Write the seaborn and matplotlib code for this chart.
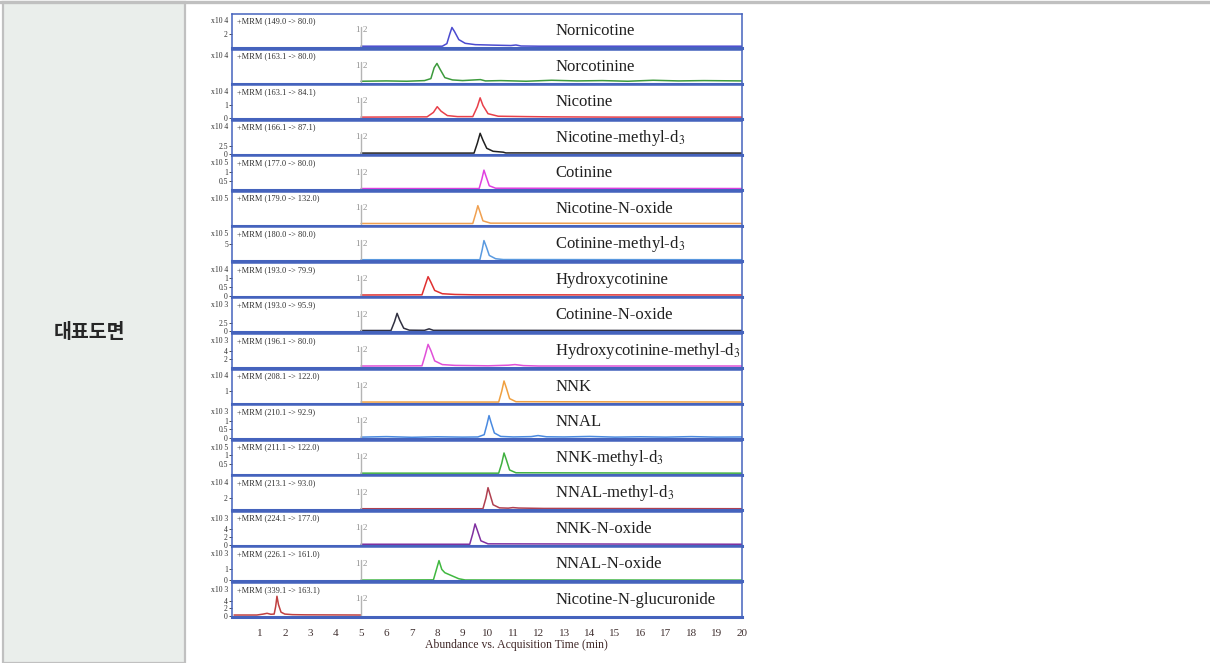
import matplotlib
matplotlib.use("Agg")
import matplotlib.pyplot as plt
from matplotlib.patches import Rectangle
from matplotlib.lines import Line2D
import seaborn as sns

# compound names, transitions and y-axis multipliers, top to bottom
names = ["Nornicotine", "Norcotinine", "Nicotine", "Nicotine-methyl-d$_3$", "Cotinine",
         "Nicotine-N-oxide", "Cotinine-methyl-d$_3$", "Hydroxycotinine", "Cotinine-N-oxide",
         "Hydroxycotinine-methyl-d$_3$", "NNK", "NNAL", "NNK-methyl-d$_3$", "NNAL-methyl-d$_3$",
         "NNK-N-oxide", "NNAL-N-oxide", "Nicotine-N-glucuronide"]
mrm = ["+MRM (149.0 -> 80.0)", "+MRM (163.1 -> 80.0)", "+MRM (163.1 -> 84.1)",
       "+MRM (166.1 -> 87.1)", "+MRM (177.0 -> 80.0)", "+MRM (179.0 -> 132.0)",
       "+MRM (180.0 -> 80.0)", "+MRM (193.0 -> 79.9)", "+MRM (193.0 -> 95.9)",
       "+MRM (196.1 -> 80.0)", "+MRM (208.1 -> 122.0)", "+MRM (210.1 -> 92.9)",
       "+MRM (211.1 -> 122.0)", "+MRM (213.1 -> 93.0)", "+MRM (224.1 -> 177.0)",
       "+MRM (226.1 -> 161.0)", "+MRM (339.1 -> 163.1)"]
exponents = [4, 4, 4, 4, 5, 5, 5, 4, 3, 3, 4, 3, 5, 4, 3, 3, 3]
yticks = [[2], [], [0, 1], [0, 2.5], [0.5, 1], [], [5], [0, 0.5, 1], [0, 2.5], [2, 4],
          [1], [0, 0.5, 1], [0.5, 1], [2], [0, 2, 4], [0, 1], [0, 2, 4]]
ytops = [4.9, 1.0, 2.6, 11, 1.9, 1.0, 10, 1.8, 10, 8, 2.9, 1.9, 1.75, 5.8, 8.2, 3.0, 8.7]
colors = ["#4b4bcf", "#3c9a3c", "#e8404a", "#202020", "#e040e0", "#f0a050", "#5a9ae0",
          "#e03030", "#303040", "#e050d8", "#f0a040", "#4a8ae0", "#40b040", "#b04050",
          "#8030a0", "#40b840", "#c04040"]

# traces (time in min, abundance in units of the multiplier)
t_nornicotine = [5.0, 8.2, 8.38, 8.5, 8.58, 8.68, 8.85, 9.1, 9.5, 10.2, 10.9, 11.1, 11.3, 12.0, 20.0]
y_nornicotine = [0.12, 0.12, 0.5, 2.0, 2.9, 2.3, 1.1, 0.55, 0.35, 0.28, 0.22, 0.3, 0.15, 0.12, 0.12]
t_norcotinine = [5.0, 6.0, 6.8, 7.5, 7.75, 7.88, 7.99, 8.1, 8.3, 8.6, 9.0, 9.7, 9.9, 10.5, 11.5,
                 12.5, 13.5, 14.5, 15.5, 16.5, 17.5, 18.5, 20.0]
y_norcotinine = [0.04, 0.05, 0.04, 0.06, 0.12, 0.45, 0.58, 0.42, 0.15, 0.08, 0.06, 0.09, 0.05,
                 0.06, 0.04, 0.07, 0.05, 0.06, 0.04, 0.07, 0.05, 0.06, 0.05]
t_nicotine = [5.0, 7.6, 7.85, 8.0, 8.15, 8.4, 8.8, 9.4, 9.58, 9.69, 9.8, 10.0, 10.4, 11.5, 12.5, 15.0, 20.0]
y_nicotine = [0.08, 0.1, 0.45, 0.9, 0.55, 0.2, 0.12, 0.12, 0.9, 1.6, 1.0, 0.35, 0.15, 0.12, 0.1, 0.08, 0.08]
t_nic_d3 = [5.0, 9.45, 9.58, 9.69, 9.8, 9.95, 10.2, 10.6, 10.7, 20.0]
y_nic_d3 = [0.2, 0.2, 3.5, 6.8, 4.5, 1.8, 0.8, 0.5, 0.25, 0.2]
t_cotinine = [5.0, 9.65, 9.76, 9.84, 9.92, 10.05, 10.3, 20.0]
y_cotinine = [0.04, 0.04, 0.6, 1.1, 0.75, 0.2, 0.06, 0.04]
t_nic_noxide = [5.0, 9.4, 9.52, 9.6, 9.68, 9.8, 10.1, 20.0]
y_nic_noxide = [0.04, 0.04, 0.35, 0.58, 0.4, 0.12, 0.05, 0.04]
t_cot_d3 = [5.0, 9.68, 9.77, 9.84, 9.93, 10.05, 10.3, 10.6, 20.0]
y_cot_d3 = [0.2, 0.2, 3.2, 6.0, 4.2, 1.5, 0.5, 0.25, 0.2]
t_hydroxycot = [5.0, 7.4, 7.53, 7.64, 7.75, 7.9, 8.2, 8.7, 9.5, 20.0]
y_hydroxycot = [0.05, 0.06, 0.6, 1.05, 0.75, 0.3, 0.12, 0.08, 0.06, 0.05]
t_cot_noxide = [5.0, 6.18, 6.32, 6.42, 6.52, 6.68, 6.9, 7.5, 7.68, 7.85, 20.0]
y_cot_noxide = [0.3, 0.3, 3.0, 5.5, 3.5, 1.0, 0.4, 0.35, 0.8, 0.35, 0.3]
t_hydroxycot_d3 = [5.0, 7.4, 7.53, 7.64, 7.75, 7.9, 8.2, 8.7, 10.0, 10.8, 11.06, 11.4, 12.0, 20.0]
y_hydroxycot_d3 = [0.25, 0.3, 3.0, 5.5, 4.0, 1.5, 0.6, 0.4, 0.3, 0.45, 0.6, 0.35, 0.25, 0.25]
t_nnk = [5.0, 10.42, 10.54, 10.63, 10.72, 10.85, 11.1, 20.0]
y_nnk = [0.05, 0.05, 1.0, 1.9, 1.3, 0.35, 0.08, 0.05]
t_nnal = [5.0, 6.0, 7.0, 8.0, 9.0, 9.6, 9.85, 9.96, 10.04, 10.12, 10.25, 10.5, 11.0, 11.7, 11.97,
          12.3, 13.0, 14.0, 15.0, 16.0, 17.0, 18.0, 19.0, 20.0]
y_nnal = [0.06, 0.09, 0.05, 0.08, 0.06, 0.07, 0.2, 0.8, 1.3, 0.9, 0.3, 0.1, 0.07, 0.09, 0.15,
          0.08, 0.07, 0.1, 0.06, 0.08, 0.06, 0.09, 0.06, 0.07]
t_nnk_d3 = [5.0, 10.42, 10.54, 10.63, 10.72, 10.85, 11.1, 20.0]
y_nnk_d3 = [0.03, 0.03, 0.55, 1.1, 0.75, 0.2, 0.05, 0.03]
t_nnal_d3 = [5.0, 9.8, 9.92, 10.0, 10.08, 10.2, 10.45, 10.8, 10.98, 11.2, 12.2, 20.0]
y_nnal_d3 = [0.1, 0.1, 2.0, 3.8, 2.6, 0.8, 0.25, 0.2, 0.3, 0.22, 0.15, 0.1]
t_nnk_noxide = [5.0, 9.28, 9.4, 9.49, 9.58, 9.72, 10.0, 20.0]
y_nnk_noxide = [0.15, 0.15, 2.8, 5.2, 3.6, 1.0, 0.25, 0.15]
t_nnal_noxide = [5.0, 7.85, 7.97, 8.07, 8.18, 8.3, 8.55, 8.85, 9.1, 20.0]
y_nnal_noxide = [0.03, 0.05, 1.0, 1.8, 1.0, 0.7, 0.45, 0.15, 0.04, 0.03]
t_glucuronide = [0.0, 0.9, 1.15, 1.3, 1.45, 1.58, 1.64, 1.69, 1.75, 1.85, 2.0, 2.3, 2.8, 5.0]
y_glucuronide = [0.25, 0.25, 0.5, 0.7, 0.45, 0.5, 2.5, 5.2, 3.0, 1.0, 0.5, 0.35, 0.3, 0.25]

times = [t_nornicotine, t_norcotinine, t_nicotine, t_nic_d3, t_cotinine, t_nic_noxide, t_cot_d3,
         t_hydroxycot, t_cot_noxide, t_hydroxycot_d3, t_nnk, t_nnal, t_nnk_d3, t_nnal_d3,
         t_nnk_noxide, t_nnal_noxide, t_glucuronide]
abund = [y_nornicotine, y_norcotinine, y_nicotine, y_nic_d3, y_cotinine, y_nic_noxide, y_cot_d3,
         y_hydroxycot, y_cot_noxide, y_hydroxycot_d3, y_nnk, y_nnal, y_nnk_d3, y_nnal_d3,
         y_nnk_noxide, y_nnal_noxide, y_glucuronide]

xticks = list(range(1, 21))

W, H = 1210, 663
FRAME = "#4563bd"
GRAY = "#c0c0c0"


def px(x, y):
    return x / W, 1 - y / H


def main() -> None:
    sns.set_style("white")
    plt.rcParams["font.family"] = ["Liberation Serif", "DejaVu Serif"]
    plt.rcParams["mathtext.fontset"] = "stix"

    fig = plt.figure(figsize=(W / 100, H / 100), dpi=100)

    # table cell background and borders
    x0, y0 = px(3, 663)
    x1, y1 = px(185, 2)
    fig.add_artist(Rectangle((x0, y0), x1 - x0, y1 - y0, transform=fig.transFigure,
                             facecolor="#eaeeeb", edgecolor=GRAY, linewidth=1.6))
    fig.add_artist(Line2D([0, 1], [1 - 1.5 / H, 1 - 1.5 / H], transform=fig.transFigure,
                          color=GRAY, linewidth=2.4))
    fig.text(*px(89, 333), "대표도면", family=["Noto Sans CJK KR", "DejaVu Sans"],
             fontweight="bold", fontsize=14, ha="center", va="center")

    left, right = 232, 742
    n = len(names)
    for i in range(n):
        top = 14 + i * 35.56
        bx, by = px(left, top + 34)
        ax = fig.add_axes([bx, by, (right - left) / W, 34 / H])

        sns.lineplot(x=times[i], y=abund[i], ax=ax, color=colors[i], linewidth=1.1,
                     estimator=None, sort=False)
        ax.set_xlim(-0.08, 20.0)
        ytop = ytops[i]
        ax.set_ylim(-0.03 * ytop, ytop)

        for side, sp in ax.spines.items():
            sp.set_visible(True)
            sp.set_color(FRAME)
            sp.set_linewidth(1.1)
        ax.spines["bottom"].set_linewidth(2.2)

        ax.set_yticks(yticks[i])
        ax.set_yticklabels([f"{v:g}" for v in yticks[i]], fontsize=5.5, color="#303030")
        ax.tick_params(axis="y", length=2, width=0.6, pad=1, color="#303030", left=True)
        ax.set_ylabel("")

        ax.text(-0.008, 0.80, f"x10 {exponents[i]}", transform=ax.transAxes, ha="right",
                va="center", fontsize=5.5, color="#303030")
        ax.text(0.01, 0.80, mrm[i], transform=ax.transAxes, ha="left", va="center",
                fontsize=6, color="#303030")

        # segment marker at 5 min
        trans = ax.get_xaxis_transform()
        ax.plot([5, 5], [0, 0.62], transform=trans, color="#b4b4b4", linewidth=1.0)
        ax.text(4.96, 0.52, "1", transform=trans, ha="right", va="center", fontsize=6.5,
                color="#909090")
        ax.text(5.06, 0.52, "2", transform=trans, ha="left", va="center", fontsize=6.5,
                color="#909090")

        ax.text(12.64, 0.5, names[i], transform=trans, ha="left", va="center",
                fontsize=12, color="#202020")

        if i < n - 1:
            ax.set_xticks([])
        else:
            ax.set_xticks(xticks)
            ax.set_xticklabels([str(v) for v in xticks], fontsize=8, color="#403030")
            ax.tick_params(axis="x", length=0, pad=9)
            ax.set_xlabel("Abundance vs. Acquisition Time (min)", fontsize=8.5,
                          color="#402828")
            ax.xaxis.set_label_coords((516 - left) / (right - left), -0.66)

    fig.savefig("out.png", dpi=100)


if __name__ == "__main__":
    main()
